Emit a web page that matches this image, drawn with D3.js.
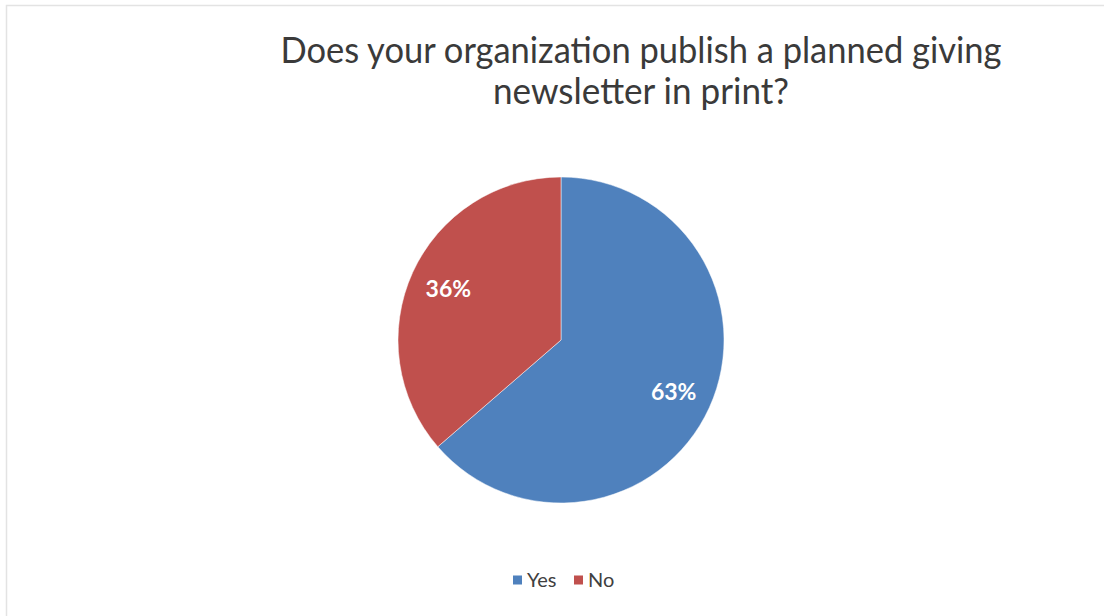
<!DOCTYPE html>
<html>
<head>
<meta charset="utf-8">
<script src="https://cdn.jsdelivr.net/npm/d3@7"></script>
<style>
  html, body { margin: 0; padding: 0; background: #fff; }
  svg { display: block; }
</style>
</head>
<body>
<svg id="chart" width="1104" height="616"></svg>
<script>
// Survey answers and their shares (percent)
const categories = ["Yes", "No"];
const values = [63, 36];
const colors = ["#4F81BD", "#C0504D"];
const titleLines = ["Does your organization publish a planned giving", "newsletter in print?"];
const titleWidths = [721, 296];

const svg = d3.select("#chart");
const W = 1104, H = 616;

// chart frame
svg.append("rect")
  .attr("x", 6.5).attr("y", 5.5)
  .attr("width", W + 10).attr("height", H + 10)
  .attr("fill", "#fff")
  .attr("stroke", "#e3e3e3")
  .attr("stroke-width", 1.5);

// title, two centred lines in a condensed face
const title = svg.append("text")
  .attr("text-anchor", "middle")
  .attr("font-family", "Lato, 'Open Sans', sans-serif")
  .attr("font-size", 36)
  .attr("fill", "#3a3a3a");
title.selectAll("tspan")
  .data(titleLines)
  .join("tspan")
  .attr("x", 641)
  .attr("y", (d, i) => 63 + i * 41)
  .attr("textLength", (d, i) => titleWidths[i])
  .attr("lengthAdjust", "spacingAndGlyphs")
  .text(d => d);

// pie
const cx = 561, cy = 340, r = 163;
const pie = d3.pie().sort(null).value(d => d.v);
const arc = d3.arc().innerRadius(0).outerRadius(r);
const data = categories.map((c, i) => ({ c, v: values[i], col: colors[i] }));
const arcs = pie(data);

const g = svg.append("g").attr("transform", `translate(${cx},${cy})`);
g.selectAll("path")
  .data(arcs)
  .join("path")
  .attr("d", arc)
  .attr("fill", d => d.data.col)
  .attr("stroke", "#fff")
  .attr("stroke-width", 0.5);

const labelArc = d3.arc().innerRadius(r * 0.76).outerRadius(r * 0.76);
g.selectAll("text.lbl")
  .data(arcs)
  .join("text")
  .attr("class", "lbl")
  .attr("transform", d => {
    const [x, y] = labelArc.centroid(d);
    return `translate(${x},${y})`;
  })
  .attr("text-anchor", "middle")
  .attr("dy", "0.35em")
  .attr("font-family", "Lato, 'Open Sans', sans-serif")
  .attr("font-weight", "bold")
  .attr("font-size", 23)
  .attr("fill", "#fff")
  .text(d => d.data.v + "%");

// legend
const legend = svg.append("g").attr("transform", "translate(513,580)");
const items = legend.selectAll("g")
  .data(data)
  .join("g")
  .attr("transform", (d, i) => `translate(${i * 61},0)`);
items.append("rect")
  .attr("x", 0).attr("y", -4.5)
  .attr("width", 9).attr("height", 9)
  .attr("fill", d => d.col);
items.append("text")
  .attr("x", 14).attr("y", 0)
  .attr("dy", "0.36em")
  .attr("font-family", "Lato, 'Open Sans', sans-serif")
  .attr("font-size", 20)
  .attr("fill", "#404040")
  .text(d => d.c);
</script>
</body>
</html>
